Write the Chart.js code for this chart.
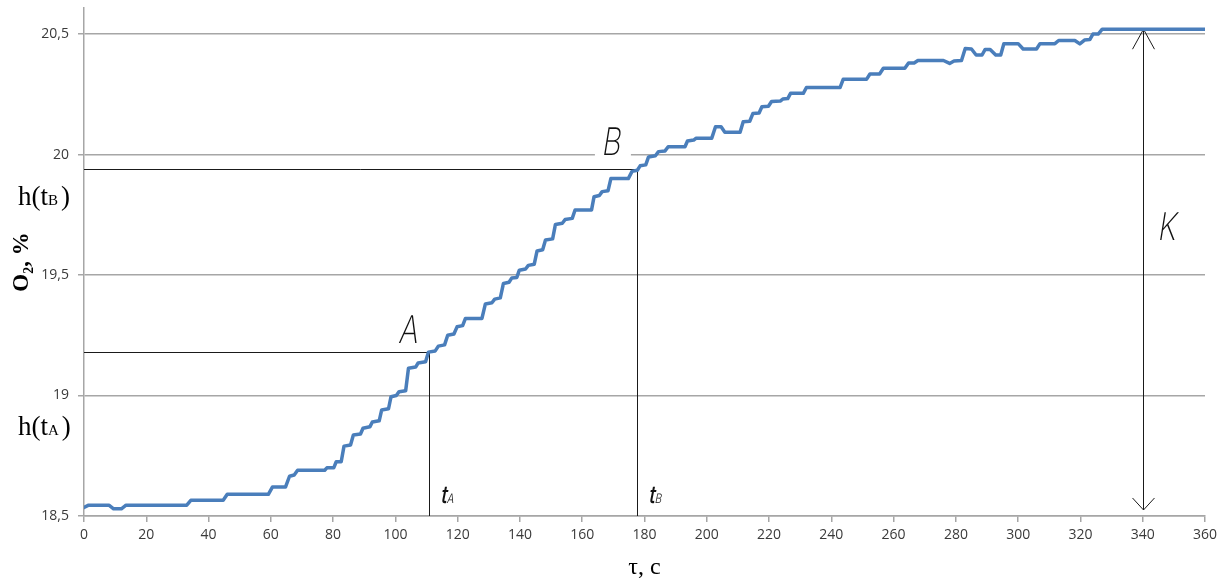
<!DOCTYPE html>
<html>
<head>
<meta charset="utf-8">
<script src="https://cdn.jsdelivr.net/npm/chart.js@4/dist/chart.umd.min.js"></script>
<style>
  html, body { margin: 0; background: #fff; }
  #wrap { width: 1232px; height: 582px; }
</style>
</head>
<body>
<div id="wrap"><canvas id="chart"></canvas></div>
<script>
// O2 reading over time
const times = [
  0, 1.5, 8, 9.5, 12, 13.5, 33, 34.3, 44.7, 46, 59.2, 60.5, 64.7, 66, 67.5, 68.6,
  77.3, 78, 80.2, 81, 82.6, 83.5, 85.6, 86.5, 88.8, 89.6, 91.8, 92.6, 94.8, 95.6,
  97.8, 98.6, 100.3, 101.2, 103.3, 104.2, 106.5, 107.3, 109.7, 110.6, 112.8, 113.8,
  115.8, 116.8, 118.8, 119.8, 121.6, 122.5, 127.8, 128.9, 131, 131.9, 133.7, 134.7,
  136.5, 137.4, 139, 139.8, 141.8, 142.7, 144.6, 145.5, 147.3, 148.2, 150.5, 151.4,
  153.6, 154.5, 156.8, 157.7, 163, 163.8, 165.5, 166.4, 168.3, 169.2, 174.8, 176,
  177.7, 178.6, 180.4, 181.3, 183.5, 184.5, 186.6, 187.6, 193, 193.8, 195.8, 196.6,
  201.6, 202.8, 204.6, 205.8, 210.7, 211.7, 213.8, 214.8, 216.8, 217.7, 219.8, 220.8,
  223.6, 224.4, 226, 226.9, 231, 232, 242.8, 243.8, 251.3, 252.4, 255.5, 256.7,
  263.6, 264.8, 266.6, 267.8, 276, 278, 279.4, 281.8, 283, 285, 286.5, 288.4, 289.4,
  291, 292.8, 294.4, 295.4, 300, 301.6, 305.9, 307, 311.8, 313, 318.2, 319.8, 321.3,
  323, 324, 325.7, 327, 360
];
const oxygen = [
  18.535, 18.545, 18.545, 18.53, 18.53, 18.545, 18.545, 18.565, 18.565, 18.59, 18.59, 18.62, 18.62, 18.665, 18.67, 18.69,
  18.69, 18.70, 18.70, 18.725, 18.725, 18.79, 18.795, 18.836, 18.84, 18.864, 18.87, 18.89, 18.895, 18.94,
  18.945, 18.995, 19.0, 19.016, 19.02, 19.113, 19.118, 19.135, 19.14, 19.18, 19.185, 19.205,
  19.21, 19.25, 19.255, 19.285, 19.29, 19.32, 19.32, 19.38, 19.385, 19.40, 19.405, 19.465,
  19.47, 19.488, 19.49, 19.52, 19.525, 19.54, 19.545, 19.60, 19.605, 19.645, 19.65, 19.71,
  19.715, 19.73, 19.735, 19.77, 19.77, 19.825, 19.83, 19.846, 19.85, 19.90, 19.90, 19.93,
  19.935, 19.953, 19.957, 19.99, 19.995, 20.012, 20.015, 20.032, 20.032, 20.056, 20.06, 20.068,
  20.068, 20.115, 20.115, 20.092, 20.092, 20.136, 20.138, 20.17, 20.172, 20.198, 20.2, 20.22,
  20.222, 20.23, 20.232, 20.254, 20.254, 20.278, 20.278, 20.312, 20.312, 20.334, 20.334, 20.358,
  20.358, 20.38, 20.38, 20.39, 20.39, 20.378, 20.388, 20.39, 20.44, 20.438, 20.413, 20.413, 20.436,
  20.436, 20.413, 20.413, 20.46, 20.46, 20.438, 20.438, 20.46, 20.46, 20.473, 20.473, 20.459, 20.475,
  20.477, 20.5, 20.5, 20.52, 20.52
];
const xTickValues = [0, 20, 40, 60, 80, 100, 120, 140, 160, 180, 200, 220, 240, 260, 280, 300, 320, 340, 360];
const yTickValues = [18.5, 19, 19.5, 20, 20.5];

// construction marks
const pointA = { t: 110.9, h: 19.18 };
const pointB = { t: 177.5, h: 19.94 };
const kArrow = { t: 340, low: 18.525, high: 20.52 };

const letterA = { text: "A", t: 100.8, h: 19.218 };
const letterB = { text: "B", t: 166, h: 20.0 };
const letterK = { text: "K", t: 344.6, h: 19.645 };
const subA = { sub: "A", t: 114.3, h: 18.554 };
const subB = { sub: "B", t: 181.1, h: 18.554 };
const levelB = { sub: "B", h: 19.79 };
const levelA = { sub: "A", h: 18.836 };

function comma(v) {
  return String(v).replace(".", ",");
}

function crisp(v) {
  return Math.round(v) + 0.5;
}

function bigLetter(ctx, text, px, py) {
  ctx.save();
  ctx.translate(px, py);
  ctx.transform(0.78, 0, -0.16, 1, 0, 0);
  ctx.font = '200 38px Inter';
  ctx.fillStyle = "#111";
  ctx.textBaseline = "alphabetic";
  ctx.fillText(text, 0, 0);
  ctx.restore();
}

function hLabel(ctx, sub, px, py) {
  ctx.save();
  ctx.fillStyle = "#000";
  ctx.textBaseline = "alphabetic";
  ctx.font = '27px "Liberation Serif"';
  ctx.fillText("h(t", px, py);
  let w = ctx.measureText("h(t").width;
  ctx.font = '15px "Liberation Serif"';
  ctx.fillText(sub, px + w, py);
  w += ctx.measureText(sub).width + 3;
  ctx.font = '27px "Liberation Serif"';
  ctx.fillText(")", px + w, py);
  ctx.restore();
}

function tLabel(ctx, sub, px, py) {
  ctx.save();
  ctx.fillStyle = "#111";
  ctx.textBaseline = "alphabetic";
  ctx.translate(px, py);
  ctx.transform(0.8, 0, -0.2, 1, 0, 0);
  ctx.font = '500 24px Inter';
  ctx.fillText("t", 0, 0);
  const w = ctx.measureText("t").width;
  ctx.font = '300 13px Inter';
  ctx.fillText(sub, w, 0);
  ctx.restore();
}

const markup = {
  id: "markup",
  beforeDatasetsDraw(chart) {
    const { ctx, scales: { x, y } } = chart;
    ctx.save();
    // white patch behind letter B cuts the grid line
    const bx = x.getPixelForValue(letterB.t);
    const by = y.getPixelForValue(letterB.h);
    ctx.fillStyle = "#fff";
    ctx.fillRect(bx - 6, by - 30, 36, 34);

    ctx.strokeStyle = "#1a1a1a";
    ctx.lineWidth = 1;
    ctx.beginPath();
    for (const p of [pointA, pointB]) {
      const px = crisp(x.getPixelForValue(p.t));
      const py = crisp(y.getPixelForValue(p.h));
      ctx.moveTo(x.left, py);
      ctx.lineTo(px, py);
      ctx.lineTo(px, y.bottom);
    }
    const kx = crisp(x.getPixelForValue(kArrow.t));
    const kTop = y.getPixelForValue(kArrow.high);
    const kBot = y.getPixelForValue(kArrow.low);
    ctx.moveTo(kx, kTop);
    ctx.lineTo(kx, kBot);
    ctx.moveTo(kx - 11, kTop + 20);
    ctx.lineTo(kx, kTop);
    ctx.lineTo(kx + 11, kTop + 20);
    ctx.moveTo(kx - 11, kBot - 12);
    ctx.lineTo(kx, kBot);
    ctx.lineTo(kx + 11, kBot - 12);
    ctx.stroke();
    ctx.restore();
  },
  afterDatasetsDraw(chart) {
    const { ctx, scales: { x, y } } = chart;
    for (const l of [letterA, letterB, letterK]) {
      bigLetter(ctx, l.text, x.getPixelForValue(l.t), y.getPixelForValue(l.h));
    }
    for (const l of [subA, subB]) {
      tLabel(ctx, l.sub, x.getPixelForValue(l.t), y.getPixelForValue(l.h));
    }
    for (const l of [levelA, levelB]) {
      hLabel(ctx, l.sub, 18, y.getPixelForValue(l.h));
    }
  }
};

new Chart(document.getElementById("chart"), {
  type: "line",
  data: {
    datasets: [{
      data: times.map((t, i) => ({ x: t, y: oxygen[i] })),
      borderColor: "#4a7ebb",
      borderWidth: 3.5,
      borderJoinStyle: "round",
      borderCapStyle: "round",
      pointRadius: 0,
      tension: 0,
      fill: false
    }]
  },
  options: {
    responsive: true,
    maintainAspectRatio: false,
    animation: false,
    layout: { padding: { top: 8, right: 27, left: 0, bottom: 0 } },
    plugins: { legend: { display: false }, tooltip: { enabled: false } },
    scales: {
      x: {
        type: "linear",
        min: 0,
        max: 360,
        afterBuildTicks: (s) => { s.ticks = xTickValues.map((v) => ({ value: v })); },
        afterFit: (s) => { s.height = 66; s.paddingLeft = 0; s.paddingRight = 0; },
        grid: { drawOnChartArea: false, drawTicks: true, tickLength: 6, color: "#a6a6a6", lineWidth: 1.5 },
        border: { color: "#a6a6a6", width: 1.5 },
        ticks: {
          maxRotation: 0,
          autoSkip: false,
          padding: 5,
          color: "#3a3a3a",
          font: { family: "Open Sans", size: 14 },
          callback: (v) => comma(v)
        },
        title: {
          display: true,
          text: "τ, c",
          color: "#000",
          font: { family: "Liberation Serif", size: 24 },
          padding: { top: 0, bottom: 0 }
        }
      },
      y: {
        min: 18.5,
        max: 20.608,
        afterBuildTicks: (s) => { s.ticks = yTickValues.map((v) => ({ value: v })); },
        afterFit: (s) => { s.width = 84; s.paddingTop = 0; s.paddingBottom = 0; },
        grid: { drawTicks: true, tickLength: 6, color: "#a6a6a6", lineWidth: 1.5 },
        border: { color: "#a6a6a6", width: 1.5 },
        ticks: {
          padding: 9,
          color: "#3a3a3a",
          font: { family: "Open Sans", size: 14 },
          callback: (v) => comma(v)
        },
        title: {
          display: true,
          text: "O₂, %",
          color: "#000",
          font: { family: "Liberation Serif", size: 23, weight: "bold" },
          padding: { top: 8, bottom: 0 }
        }
      }
    }
  },
  plugins: [markup]
});
</script>
</body>
</html>
